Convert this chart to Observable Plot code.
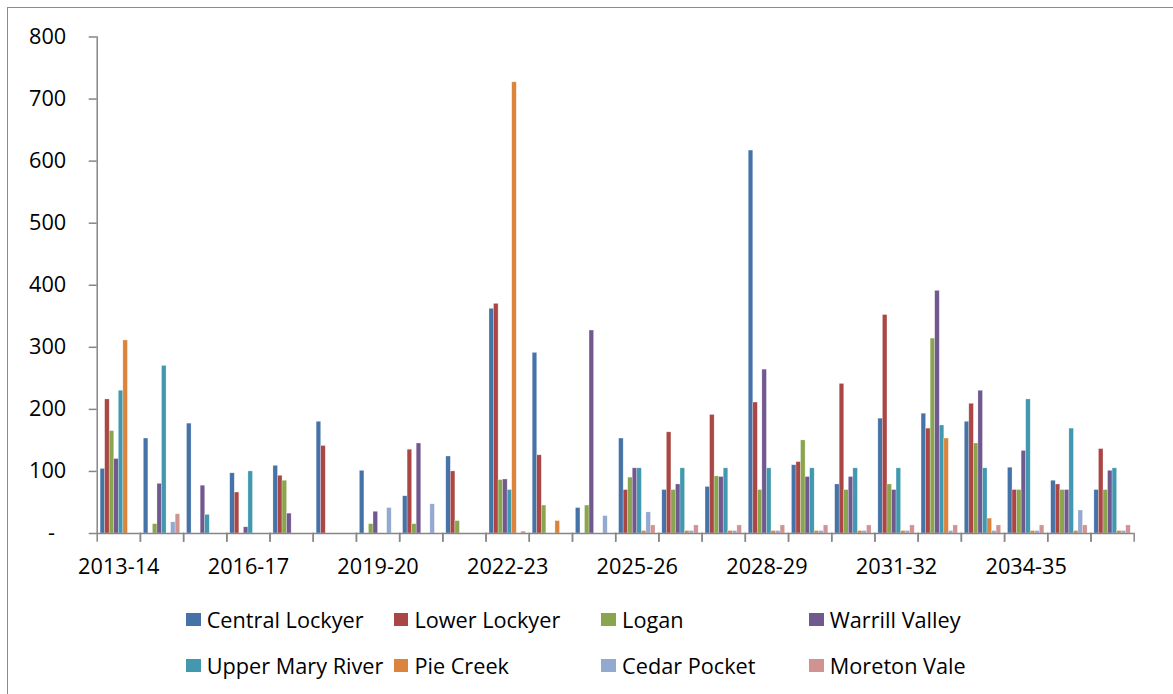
<!DOCTYPE html>
<html><head><meta charset="utf-8">
<script src="https://cdn.jsdelivr.net/npm/d3@7"></script>
<script src="https://cdn.jsdelivr.net/npm/@observablehq/plot@0.6"></script>
<style>
body{margin:0;background:#fff;font-family:"Open Sans",sans-serif;}
#wrap{position:relative;width:1173px;height:694px;overflow:hidden;background:#fff}
#border{position:absolute;left:7px;top:7px;width:1200px;height:720px;border:1.5px solid #8c8c8c;box-sizing:border-box}
#chart{position:absolute;left:0;top:0}
.li{position:absolute;display:flex;align-items:center;font-size:21.7px;color:#000;white-space:nowrap;height:30px}
.sw{width:14.7px;height:13px;margin-right:6px;flex:none}
</style></head>
<body><div id="wrap"><div id="border"></div><div id="chart"></div><div id="legend"></div></div>
<script>
const years = ["2013-14","2014-15","2015-16","2016-17","2017-18","2018-19","2019-20","2020-21","2021-22","2022-23","2023-24","2024-25","2025-26","2026-27","2027-28","2028-29","2029-30","2030-31","2031-32","2032-33","2033-34","2034-35","2035-36","2036-37"];
const labelYears = ["2013-14","2016-17","2019-20","2022-23","2025-26","2028-29","2031-32","2034-35"];
const seriesNames = ["Central Lockyer","Lower Lockyer","Logan","Warrill Valley","Upper Mary River","Pie Creek","Cedar Pocket","Moreton Vale"];
const colors = ["#4572A7","#AA4643","#89A54E","#71588F","#4198AF","#DB843D","#93A9CF","#D19392"];
const centralLockyer = [104,153,177,97,109,180,101,60,124,362,291,41,153,70,75,617,110,79,185,193,180,106,85,70];
const lowerLockyer   = [216,0,0,66,93,141,0,135,100,370,126,0,70,163,191,211,115,241,352,169,209,70,79,136];
const logan          = [165,15,0,0,85,0,15,15,20,86,45,45,90,70,92,70,150,70,79,314,145,70,70,70];
const warrillValley  = [120,80,77,10,32,0,35,145,0,87,0,327,105,79,91,264,91,91,70,391,230,133,70,101];
const upperMaryRiver = [230,270,30,100,0,0,0,0,0,70,0,0,105,105,105,105,105,105,105,174,105,216,169,105];
const pieCreek       = [311,0,0,0,0,0,0,0,0,727,20,0,4,4,4,4,4,4,4,153,24,4,4,4];
const cedarPocket    = [0,18,0,0,0,0,41,47,0,0,0,28,34,4,4,4,4,4,4,4,4,4,37,4];
const moretonVale    = [0,31,0,0,0,0,0,0,0,3,0,0,13,13,13,13,13,13,13,13,13,13,13,13];
const seriesValues = [centralLockyer,lowerLockyer,logan,warrillValley,upperMaryRiver,pieCreek,cedarPocket,moretonVale];

const table = [];
years.forEach((yr,i)=>seriesNames.forEach((s,j)=>table.push({year:yr, series:s, value:seriesValues[j][i]})));

const W=1173, H=590, mL=96.7, mR=39.3, mT=36.5, mB=57;
const axisColor = "#868686";
const chart = Plot.plot({
  width:W, height:H, marginLeft:mL, marginRight:mR, marginTop:mT, marginBottom:mB,
  style:{fontFamily:"'Open Sans', sans-serif", fontSize:"21.7px", color:"#000", background:"transparent", overflow:"visible"},
  fx:{domain:years, padding:0, round:false, label:null, axis:null},
  x:{domain:seriesNames, paddingInner:0, paddingOuter:0.75, round:false, axis:null},
  y:{domain:[0,800], label:null, axis:null},
  color:{domain:seriesNames, range:colors},
  marks:[
    Plot.barY(table.filter(d=>d.value>0), {fx:"year", x:"series", y:"value", fill:"series", stroke:"#fff", strokeOpacity:0.45, strokeWidth:0.6}),
    Plot.ruleY([0], {stroke:axisColor, strokeWidth:1.5}),
    Plot.frame({anchor:"left", insetTop:H-mT-mB, insetBottom:-7.5, stroke:axisColor, strokeWidth:1.5}),
    Plot.frame({anchor:"right", insetTop:H-mT-mB, insetBottom:-7.5, stroke:axisColor, strokeWidth:1.5}),
    Plot.axisY({ticks:d3.range(0,801,100), tickSize:8, tickPadding:23, stroke:axisColor, strokeWidth:1.5, fill:"#000",
      tickFormat:d=> d===0 ? "-\u00a0\u00a0" : String(d)}),
    Plot.axisFx({ticks:labelYears, anchor:"bottom", tickSize:0, tickPadding:25, fill:"#000", label:null}),
    Plot.frame({anchor:"left", facet:"super", stroke:axisColor, strokeWidth:1.5})
  ]
});
document.getElementById("chart").appendChild(chart);

const legend = document.getElementById("legend");
seriesNames.forEach((s,k)=>{
  const col = k%4, row = Math.floor(k/4);
  const el = document.createElement("div");
  el.className="li";
  el.style.left = (186 + col*207.7) + "px";
  el.style.top = (619.3 + row*45.7 - 15) + "px";
  el.innerHTML = `<span class="sw" style="background:${colors[k]}"></span><span>${s}</span>`;
  legend.appendChild(el);
});
</script></body></html>
